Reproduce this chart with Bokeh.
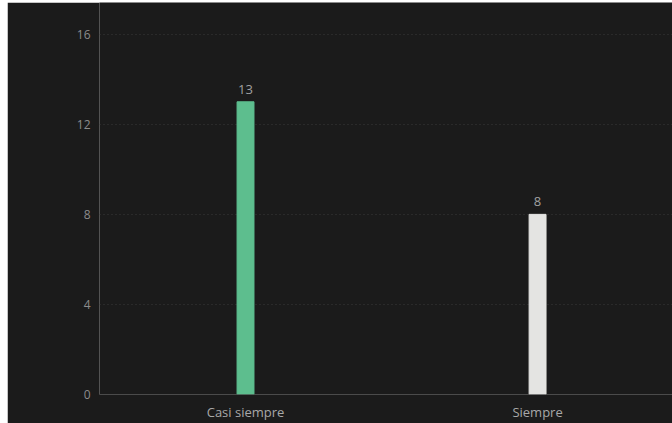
from bokeh.plotting import figure
from bokeh.models import ColumnDataSource, Range1d, FixedTicker, Span
from bokeh.core.properties import value
from bokeh.embed import file_html
from bokeh.resources import INLINE

categories = ["Casi siempre", "Siempre"]
counts = [13, 8]
colors = ["#5dbe8e", "#e4e4e2"]
y_ticks = [0, 4, 8, 12, 16]

xs = [i + 0.5 for i in range(len(categories))]
src = ColumnDataSource(dict(x=xs, top=counts, color=colors, label=[str(c) for c in counts]))

BG = "#1b1b1b"
p = figure(width=665, height=421, output_backend="svg", toolbar_location=None,
           x_range=Range1d(0, 1.962), y_range=Range1d(0, 17.41),
           min_border_left=92, min_border_right=0, min_border_top=0, min_border_bottom=27,
           background_fill_color=BG, border_fill_color=BG, outline_line_color=None,
           margin=(2, 0, 0, 7))

p.vbar(x="x", top="top", width=0.058, color="color", source=src)
p.text(x="x", y="top", text="label", source=src, text_align="center", text_baseline="bottom",
       y_offset=-8, text_color="#a0a0a0", text_font_size="13px", text_font=value("Open Sans"))

p.add_layout(Span(location=0, dimension="width", line_color="#444444", line_width=1))

p.xgrid.grid_line_color = None
p.ygrid.grid_line_color = "#3a3a3a"
p.ygrid.grid_line_dash = "1 3"
p.ygrid.ticker = FixedTicker(ticks=y_ticks)

p.yaxis.ticker = FixedTicker(ticks=y_ticks)
p.xaxis.ticker = FixedTicker(ticks=xs)
p.xaxis.major_label_overrides = {x: c for x, c in zip(xs, categories)}
for ax in (p.xaxis, p.yaxis):
    ax.axis_line_color = None
    ax.major_tick_line_color = None
    ax.minor_tick_line_color = None
    ax.major_tick_in = 0
    ax.major_tick_out = 0
    ax.major_label_text_font = "Open Sans"
p.yaxis.major_label_text_font_size = "12px"
p.xaxis.major_label_text_font_size = "13px"
p.yaxis.major_label_text_color = "#8c8c8c"
p.yaxis.major_label_standoff = 9
p.xaxis.major_label_text_color = "#a8a8a8"
p.xaxis.major_label_standoff = 8

open("out.html", "w").write(file_html(p, INLINE))
